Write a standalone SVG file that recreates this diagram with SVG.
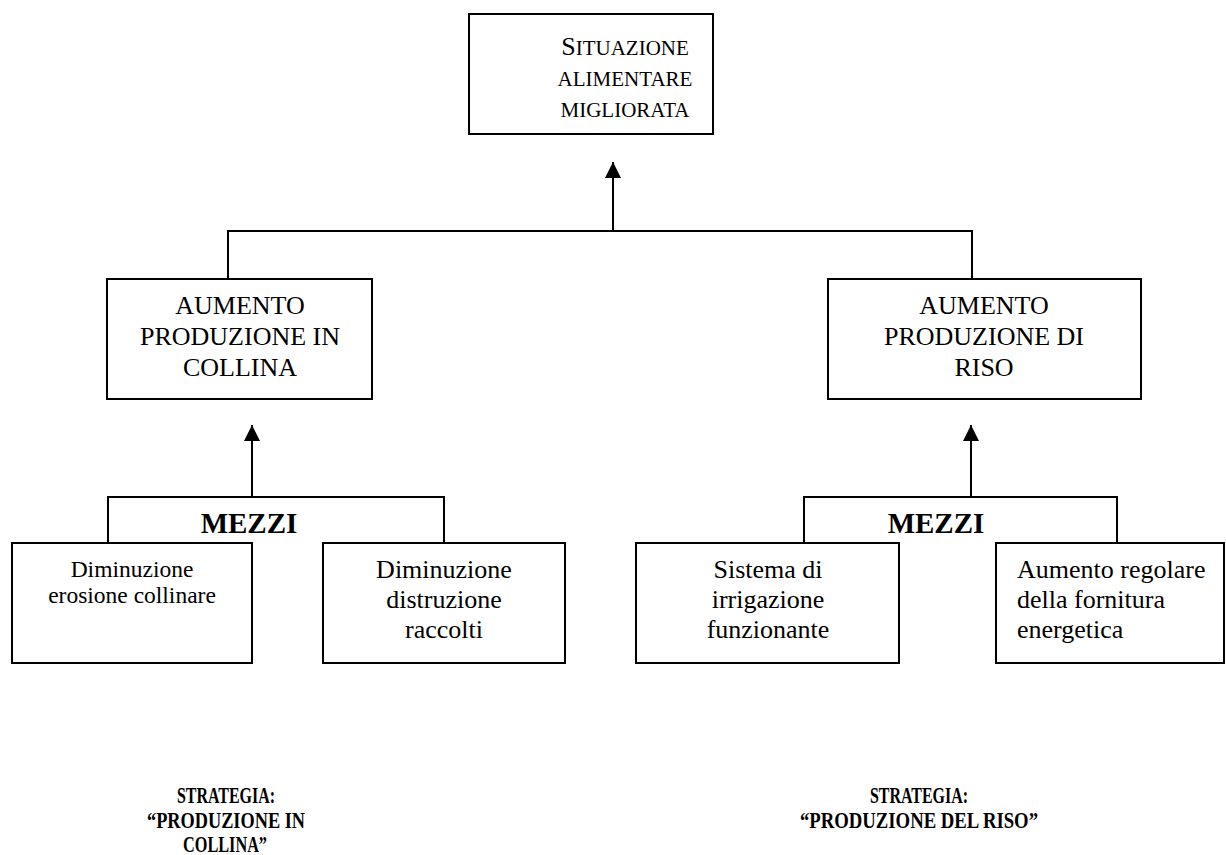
<svg xmlns="http://www.w3.org/2000/svg" width="1226" height="855" viewBox="0 0 1226 855" font-family="'Liberation Serif', 'Times New Roman', serif">
  <style>
    .box { fill: #ffffff; stroke: #000000; stroke-width: 2; }
    .wire { fill: none; stroke: #000000; stroke-width: 2; }
    .t { font-family: 'Liberation Serif', 'Times New Roman', serif; fill: #000000; }
    .c { text-anchor: middle; }
    .mid { font-size: 26px; }
    .low { font-size: 26px; }
    .sc { font-size: 21px; }
    .hd { font-weight: bold; font-size: 29px; }
    .st { font-weight: bold; font-size: 24px; }
  </style>
  <defs>
    <marker id="arrow" markerUnits="userSpaceOnUse" markerWidth="16" markerHeight="16" viewBox="0 0 16 16" refX="16" refY="8" orient="auto">
      <path d="M0 0 L16 8 L0 16 Z" fill="#000000"/>
    </marker>
  </defs>

  <g id="connectors">
    <!-- goal link -->
    <path class="wire" d="M228 279 V231 H972 V279"/>
    <path class="wire" d="M613 231 V162" marker-end="url(#arrow)"/>
    <!-- left means -->
    <path class="wire" d="M108 543 V497 H444 V543"/>
    <path class="wire" d="M252 497 V425" marker-end="url(#arrow)"/>
    <!-- right means -->
    <path class="wire" d="M804 543 V497 H1117 V543"/>
    <path class="wire" d="M971 497 V425" marker-end="url(#arrow)"/>
  </g>

  <g id="goal">
    <rect class="box" x="469" y="14" width="244" height="120"/>
    <text class="t c" x="625" y="55"><tspan font-size="26">S</tspan><tspan class="sc">ITUAZIONE</tspan></text>
    <text class="t c sc" x="625" y="86">ALIMENTARE</text>
    <text class="t c sc" x="625" y="117">MIGLIORATA</text>
  </g>

  <g id="aumento-collina">
    <rect class="box" x="107" y="279" width="265" height="120"/>
    <text class="t c mid" x="240" y="314">AUMENTO</text>
    <text class="t c mid" x="240" y="345">PRODUZIONE IN</text>
    <text class="t c mid" x="240" y="376">COLLINA</text>
  </g>

  <g id="aumento-riso">
    <rect class="box" x="828" y="279" width="313" height="120"/>
    <text class="t c mid" x="984" y="314">AUMENTO</text>
    <text class="t c mid" x="984" y="345">PRODUZIONE DI</text>
    <text class="t c mid" x="984" y="376">RISO</text>
  </g>

  <g id="mezzi-collina">
    <text class="t c hd" x="249" y="533">MEZZI</text>
  </g>

  <g id="mezzi-riso">
    <text class="t c hd" x="936" y="533">MEZZI</text>
  </g>

  <g id="erosione">
    <rect class="box" x="12" y="543" width="240" height="120"/>
    <text class="t c" font-size="23.5" x="132" y="577">Diminuzione</text>
    <text class="t c" font-size="23.5" x="132" y="603">erosione collinare</text>
  </g>

  <g id="raccolti">
    <rect class="box" x="323" y="543" width="242" height="120"/>
    <text class="t c low" x="444" y="578">Diminuzione</text>
    <text class="t c low" x="444" y="608">distruzione</text>
    <text class="t c low" x="444" y="638">raccolti</text>
  </g>

  <g id="irrigazione">
    <rect class="box" x="636" y="543" width="263" height="120"/>
    <text class="t c low" x="768" y="578">Sistema di</text>
    <text class="t c low" x="768" y="608">irrigazione</text>
    <text class="t c low" x="768" y="638">funzionante</text>
  </g>

  <g id="energia">
    <rect class="box" x="996" y="543" width="228" height="120"/>
    <text class="t low" x="1017" y="578">Aumento regolare</text>
    <text class="t low" x="1017" y="608">della fornitura</text>
    <text class="t low" x="1017" y="638">energetica</text>
  </g>

  <!-- strategy captions, set in a narrow bold face -->
  <g id="strategia-collina">
    <text class="t c st" x="226" y="803" textLength="98" lengthAdjust="spacingAndGlyphs">STRATEGIA:</text>
    <text class="t c st" x="226" y="828" textLength="158" lengthAdjust="spacingAndGlyphs">“PRODUZIONE IN</text>
    <text class="t c st" x="225" y="852" textLength="84" lengthAdjust="spacingAndGlyphs">COLLINA”</text>
  </g>

  <g id="strategia-riso">
    <text class="t c st" x="919" y="803" textLength="98" lengthAdjust="spacingAndGlyphs">STRATEGIA:</text>
    <text class="t c st" x="919" y="828" textLength="238" lengthAdjust="spacingAndGlyphs">“PRODUZIONE DEL RISO”</text>
  </g>
</svg>
